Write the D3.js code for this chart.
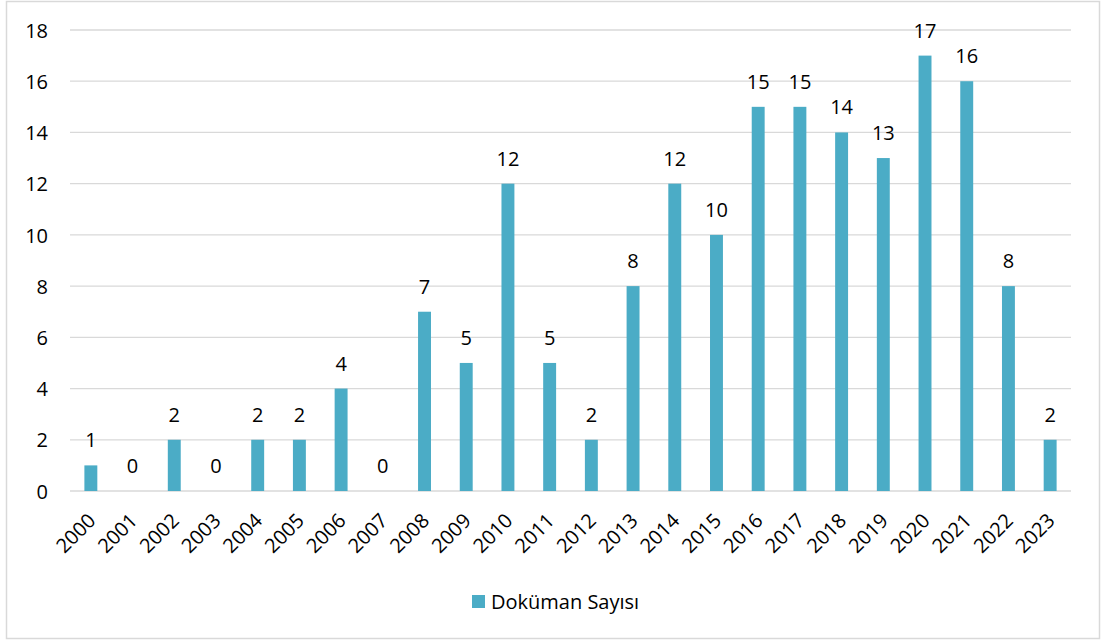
<!DOCTYPE html>
<html><head><meta charset="utf-8">
<script src="https://cdn.jsdelivr.net/npm/d3@7"></script>
<style>html,body{margin:0;padding:0;background:#fff;}</style>
</head><body>
<svg id="c" width="1103" height="641"></svg>
<script>
const years = ["2000","2001","2002","2003","2004","2005","2006","2007","2008","2009","2010","2011","2012","2013","2014","2015","2016","2017","2018","2019","2020","2021","2022","2023"];
const counts = [1,0,2,0,2,2,4,0,7,5,12,5,2,8,12,10,15,15,14,13,17,16,8,2];
const yTicks = [0,2,4,6,8,10,12,14,16,18];
const seriesName = "Doküman Sayısı";

const font = "'Open Sans', sans-serif";
const fs = 20;
const color = "#4BACC6";
const svg = d3.select("#c");
svg.append("rect").attr("x",6.5).attr("y",1.5).attr("width",1093).attr("height",637)
  .attr("fill","#fff").attr("stroke","#d9d9d9").attr("stroke-width",1.5);

const x = d3.scaleBand().domain(years).range([70,1071]).paddingInner(0.69).paddingOuter(0.345);
const y = d3.scaleLinear().domain([0,18]).range([491,30]);

const g = svg.append("g");
g.selectAll("line.grid").data(yTicks).enter().append("line")
  .attr("x1",70).attr("x2",1071).attr("y1",d=>y(d)).attr("y2",d=>y(d))
  .attr("stroke","#d9d9d9").attr("stroke-width",1.3);

const yAxis = d3.axisLeft(y).tickValues(yTicks).tickSize(0).tickPadding(0);
const ya = svg.append("g").attr("transform","translate(48,0)").call(yAxis);
ya.select(".domain").remove();
ya.selectAll("text").attr("font-family",font).attr("font-size",fs).attr("fill","#000").attr("text-anchor","end").attr("dy","0.36em");

const xAxis = d3.axisBottom(x).tickSize(0).tickPadding(0);
const xa = svg.append("g").attr("transform","translate(0,491)").call(xAxis);
xa.select(".domain").remove();
xa.selectAll("text").attr("font-family",font).attr("font-size",fs).attr("fill","#000")
  .attr("text-anchor","end").attr("dy",0).attr("y",0)
  .attr("transform","translate(6,31) rotate(-45)");

g.selectAll("rect.bar").data(counts).enter().append("rect")
  .attr("x",(d,i)=>x(years[i])).attr("width",x.bandwidth())
  .attr("y",d=>y(d)).attr("height",d=>y(0)-y(d)).attr("fill",color);

g.selectAll("text.val").data(counts).enter().append("text")
  .attr("x",(d,i)=>x(years[i])+x.bandwidth()/2).attr("y",d=>y(d)-18)
  .attr("text-anchor","middle").attr("font-family",font).attr("font-size",fs).attr("fill","#000")
  .text(d=>d);

const lg = svg.append("g");
lg.append("rect").attr("x",472).attr("y",595).attr("width",13).attr("height",13).attr("fill",color);
lg.append("text").attr("x",491).attr("y",609).attr("font-family",font).attr("font-size",fs).attr("fill","#000").text(seriesName);
</script>
</body></html>
